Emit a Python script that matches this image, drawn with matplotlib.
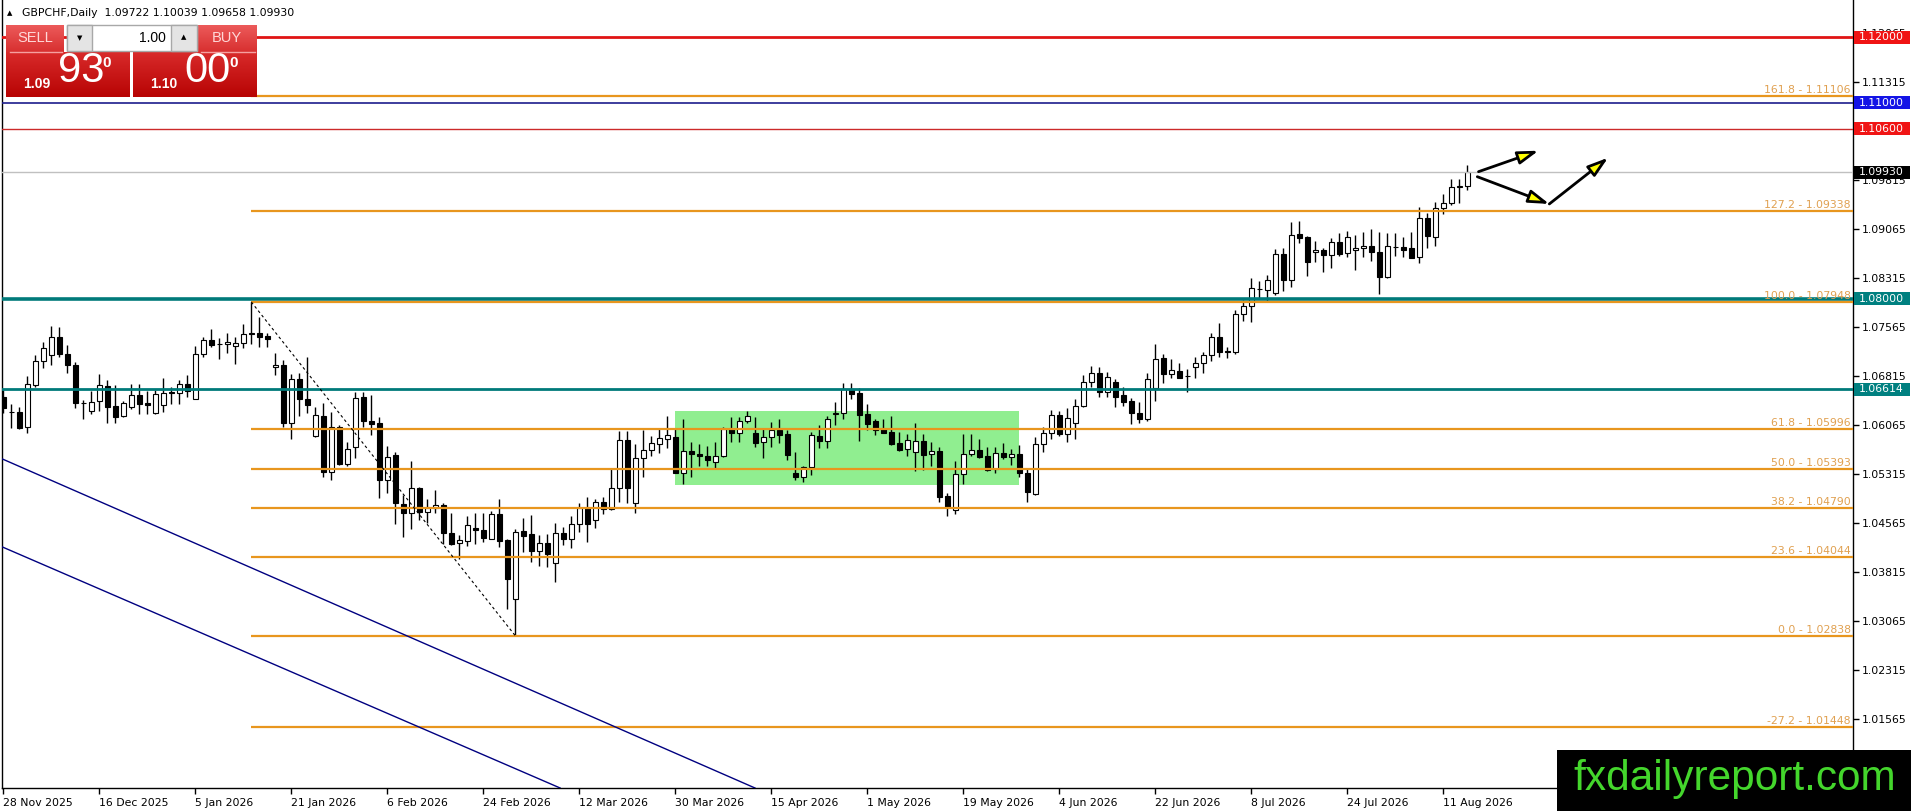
import matplotlib
matplotlib.use('Agg')
import numpy as np
import matplotlib.pyplot as plt
import matplotlib.transforms as mtransforms
from matplotlib import font_manager
from matplotlib.colors import LinearSegmentedColormap
from matplotlib.patches import Rectangle, FancyArrowPatch

# GBPCHF daily candles, bar 0 = 28 Nov 2025
opens = [
    1.06499, 1.06269, 1.06264, 1.06029, 1.06677, 1.07039, 1.07131, 1.07407, 1.07147, 1.06978,
    1.06407, 1.06284, 1.06427, 1.06657, 1.06351, 1.06197, 1.06335, 1.06519, 1.06397, 1.06243,
    1.06366, 1.06570, 1.06560, 1.06697, 1.06468, 1.07147, 1.07361, 1.07305, 1.07300, 1.07274,
    1.07315, 1.07468, 1.07468, 1.07422, 1.06947, 1.06978, 1.06090, 1.06764, 1.06463, 1.05897,
    1.06202, 1.05351, 1.06029, 1.05468, 1.05723, 1.06488, 1.06121, 1.06090, 1.05223, 1.05600,
    1.04856, 1.04713, 1.05096, 1.04728, 1.04789, 1.04835, 1.04407, 1.04254, 1.04294, 1.04488,
    1.04453, 1.04325, 1.04697, 1.04305, 1.03397, 1.04437, 1.04396, 1.04141, 1.04254, 1.03947,
    1.04407, 1.04325, 1.04544, 1.04789, 1.04611, 1.04881, 1.04784, 1.05096, 1.05840, 1.04866,
    1.05555, 1.05677, 1.05769, 1.05856, 1.05876, 1.05325, 1.05672, 1.05616, 1.05585, 1.05493,
    1.05585, 1.05999, 1.05937, 1.06121, 1.05937, 1.05800, 1.05876, 1.05988, 1.05922, 1.05325,
    1.05274, 1.05417, 1.05892, 1.05825, 1.06238, 1.06244, 1.06611, 1.06550, 1.06233, 1.06126,
    1.06004, 1.05958, 1.05784, 1.05693, 1.05647, 1.05820, 1.05616, 1.05667, 1.04978, 1.04759,
    1.05310, 1.05616, 1.05682, 1.05590, 1.05397, 1.05631, 1.05570, 1.05621, 1.05325, 1.05009,
    1.05769, 1.05937, 1.06213, 1.05922, 1.06096, 1.06351, 1.06718, 1.06856, 1.06575, 1.06718,
    1.06524, 1.06432, 1.06254, 1.06162, 1.06626, 1.07085, 1.06840, 1.06891, 1.06820, 1.06947,
    1.07009, 1.07131, 1.07407, 1.07192, 1.07177, 1.07764, 1.07886, 1.08146, 1.08131, 1.08080,
    1.08677, 1.08279, 1.08983, 1.08942, 1.08708, 1.08743, 1.08662, 1.08861, 1.08692, 1.08738,
    1.08769, 1.08800, 1.08713, 1.08335, 1.08794, 1.08789, 1.08769, 1.08641, 1.09228, 1.08937,
    1.09381, 1.09458, 1.09713, 1.09722,
]
highs = [
    1.06601, 1.06381, 1.06335, 1.06815, 1.07136, 1.07330, 1.07580, 1.07565, 1.07289, 1.07029,
    1.06448, 1.06585, 1.06840, 1.06754, 1.06672, 1.06432, 1.06692, 1.06687, 1.06585, 1.06601,
    1.06779, 1.06641, 1.06754, 1.06830, 1.07274, 1.07407, 1.07529, 1.07391, 1.07468, 1.07417,
    1.07611, 1.07948, 1.07723, 1.07478, 1.07162, 1.07060, 1.06840, 1.06856, 1.07101, 1.06335,
    1.06397, 1.06269, 1.06065, 1.05810, 1.06575, 1.06575, 1.06524, 1.06182, 1.05743, 1.05656,
    1.04993, 1.05514, 1.05121, 1.04927, 1.05070, 1.04866, 1.04723, 1.04376, 1.04677, 1.04723,
    1.04713, 1.04753, 1.04932, 1.04315, 1.04468, 1.04636, 1.04687, 1.04376, 1.04396, 1.04560,
    1.04509, 1.04672, 1.04876, 1.04957, 1.04937, 1.04957, 1.05401, 1.05978, 1.05978, 1.05774,
    1.05988, 1.05896, 1.06014, 1.06202, 1.06009, 1.06151, 1.05804, 1.05769, 1.05743, 1.05810,
    1.06039, 1.06182, 1.06182, 1.06279, 1.06182, 1.06014, 1.06106, 1.06152, 1.05988, 1.05647,
    1.05443, 1.05953, 1.06060, 1.06203, 1.06412, 1.06713, 1.06713, 1.06636, 1.06386, 1.06162,
    1.06157, 1.06198, 1.05953, 1.05922, 1.06096, 1.05922, 1.05800, 1.05723, 1.05029, 1.05519,
    1.05922, 1.05922, 1.05851, 1.05723, 1.05723, 1.05784, 1.05693, 1.05754, 1.05402, 1.05876,
    1.06029, 1.06289, 1.06279, 1.06330, 1.06458, 1.06830, 1.06968, 1.06948, 1.06881, 1.06764,
    1.06641, 1.06473, 1.06422, 1.06856, 1.07305, 1.07146, 1.07070, 1.07009, 1.06917, 1.07101,
    1.07187, 1.07468, 1.07631, 1.07254, 1.07825, 1.07978, 1.08310, 1.08274, 1.08361, 1.08759,
    1.08769, 1.09177, 1.09187, 1.08958, 1.08886, 1.08769, 1.08922, 1.09009, 1.09034, 1.08973,
    1.09014, 1.09065, 1.09014, 1.08998, 1.08998, 1.08937, 1.09014, 1.09407, 1.09305, 1.09473,
    1.09601, 1.09830, 1.09825, 1.10039,
]
lows = [
    1.06243, 1.06014, 1.05999, 1.05948, 1.06652, 1.06942, 1.06988, 1.07111, 1.06866, 1.06320,
    1.06162, 1.06238, 1.06284, 1.06100, 1.06100, 1.06192, 1.06305, 1.06233, 1.06228, 1.06238,
    1.06269, 1.06381, 1.06381, 1.06499, 1.06458, 1.07111, 1.07264, 1.07070, 1.07162, 1.06993,
    1.07238, 1.07300, 1.07254, 1.07254, 1.06825, 1.06039, 1.05846, 1.06208, 1.06243, 1.05881,
    1.05274, 1.05223, 1.05453, 1.05438, 1.05555, 1.06039, 1.05912, 1.04942, 1.05029, 1.04549,
    1.04356, 1.04468, 1.04611, 1.04560, 1.04713, 1.04243, 1.04228, 1.04009, 1.04218, 1.04238,
    1.04279, 1.04320, 1.04203, 1.03254, 1.02838, 1.04126, 1.03973, 1.03912, 1.03886, 1.03667,
    1.04228, 1.04177, 1.04432, 1.04279, 1.04494, 1.04697, 1.04764, 1.04891, 1.04876, 1.04723,
    1.05274, 1.05596, 1.05631, 1.05708, 1.05325, 1.05157, 1.05274, 1.05437, 1.05437, 1.05401,
    1.05570, 1.05810, 1.05810, 1.06090, 1.05723, 1.05555, 1.05733, 1.05784, 1.05529, 1.05223,
    1.05198, 1.05300, 1.05718, 1.05718, 1.06065, 1.06152, 1.06468, 1.05825, 1.05988, 1.05912,
    1.05937, 1.05759, 1.05667, 1.05596, 1.05366, 1.05376, 1.05437, 1.04892, 1.04677, 1.04703,
    1.05162, 1.05590, 1.05565, 1.05366, 1.05335, 1.05545, 1.05453, 1.05274, 1.04892, 1.04994,
    1.05657, 1.05851, 1.05897, 1.05810, 1.05846, 1.06335, 1.06652, 1.06499, 1.06499, 1.06335,
    1.06356, 1.06075, 1.06090, 1.06131, 1.06437, 1.06703, 1.06789, 1.06779, 1.06575, 1.06779,
    1.06866, 1.07044, 1.07101, 1.07085, 1.07152, 1.07662, 1.07646, 1.07993, 1.07953, 1.08055,
    1.08121, 1.08182, 1.08856, 1.08351, 1.08565, 1.08412, 1.08473, 1.08657, 1.08641, 1.08437,
    1.08641, 1.08580, 1.08065, 1.08310, 1.08657, 1.08641, 1.08616, 1.08539, 1.08779, 1.08805,
    1.09294, 1.09432, 1.09468, 1.09658,
]
closes = [
    1.06320, 1.06259, 1.06024, 1.06687, 1.07045, 1.07238, 1.07407, 1.07147, 1.06978, 1.06407,
    1.06397, 1.06422, 1.06672, 1.06346, 1.06192, 1.06397, 1.06519, 1.06392, 1.06366, 1.06534,
    1.06550, 1.06550, 1.06697, 1.06590, 1.07147, 1.07361, 1.07294, 1.07300, 1.07330, 1.07315,
    1.07458, 1.07453, 1.07417, 1.07386, 1.06978, 1.06090, 1.06764, 1.06458, 1.06376, 1.06213,
    1.05351, 1.06029, 1.05463, 1.05703, 1.06473, 1.06126, 1.06080, 1.05223, 1.05570, 1.04866,
    1.04713, 1.05096, 1.04728, 1.04789, 1.04835, 1.04407, 1.04243, 1.04300, 1.04529, 1.04453,
    1.04340, 1.04697, 1.04294, 1.03703, 1.04422, 1.04371, 1.04141, 1.04254, 1.04085, 1.04407,
    1.04325, 1.04544, 1.04789, 1.04555, 1.04881, 1.04784, 1.05096, 1.05840, 1.05096, 1.05555,
    1.05677, 1.05784, 1.05861, 1.05907, 1.05335, 1.05662, 1.05621, 1.05585, 1.05534, 1.05585,
    1.05998, 1.05937, 1.06121, 1.06198, 1.05795, 1.05876, 1.05988, 1.05917, 1.05611, 1.05274,
    1.05417, 1.05907, 1.05825, 1.06162, 1.06254, 1.06611, 1.06539, 1.06223, 1.06085, 1.05988,
    1.05948, 1.05779, 1.05682, 1.05835, 1.05820, 1.05611, 1.05667, 1.04968, 1.04815, 1.05310,
    1.05616, 1.05682, 1.05580, 1.05376, 1.05631, 1.05575, 1.05616, 1.05325, 1.05045, 1.05769,
    1.05937, 1.06213, 1.05922, 1.06167, 1.06351, 1.06718, 1.06856, 1.06575, 1.06805, 1.06499,
    1.06422, 1.06243, 1.06162, 1.06764, 1.07070, 1.06840, 1.06907, 1.06789, 1.06815, 1.07009,
    1.07131, 1.07407, 1.07177, 1.07187, 1.07764, 1.07886, 1.08157, 1.08141, 1.08279, 1.08677,
    1.08279, 1.08968, 1.08932, 1.08565, 1.08743, 1.08662, 1.08861, 1.08687, 1.08947, 1.08769,
    1.08800, 1.08718, 1.08335, 1.08800, 1.08789, 1.08749, 1.08626, 1.09228, 1.08963, 1.09381,
    1.09458, 1.09713, 1.09722, 1.09930,
]

date_labels = ['28 Nov 2025', '16 Dec 2025', '5 Jan 2026', '21 Jan 2026', '6 Feb 2026',
               '24 Feb 2026', '12 Mar 2026', '30 Mar 2026', '15 Apr 2026', '1 May 2026',
               '19 May 2026', '4 Jun 2026', '22 Jun 2026', '8 Jul 2026', '24 Jul 2026',
               '11 Aug 2026']
price_ticks = [1.12065, 1.11315, 1.10565, 1.09815, 1.09065, 1.08315, 1.07565, 1.06815,
               1.06065, 1.05315, 1.04565, 1.03815, 1.03065, 1.02315, 1.01565]

# fibonacci retracement drawn from the Jan high to the Mar low
fib_ratios = ['161.8', '127.2', '100.0', '61.8', '50.0', '38.2', '23.6', '0.0', '-27.2']
fib_prices = [1.11106, 1.09338, 1.07948, 1.05996, 1.05393, 1.04790, 1.04044, 1.02838, 1.01448]
fib_start_bar = 31
fib_anchor = [(31, 1.07948), (64, 1.02838)]

# horizontal levels marked on the price scale
level_prices = [1.12000, 1.11000, 1.10600, 1.09930, 1.08000, 1.06614]
level_line_colors = ['#e01414', '#1c1c8c', '#cc2a2a', '#c0c0c0', '#007a7a', '#007a7a']
level_box_colors = ['#f01414', '#1414e6', '#f01414', '#000000', '#008080', '#008080']
level_widths = [2.0, 1.2, 1.0, 1.0, 2.6, 2.0]

# consolidation box and old down channel
box_bars = (84, 127)
box_prices = (1.05146, 1.06279)
channel_upper = [(-0.41, 1.05560), (93.96, 1.00508)]
channel_lower = [(-0.41, 1.04213), (69.6, 1.00508)]

# projected paths
arrow_paths = [((184.4, 1.09942), (191.9, 1.10263)),
               ((184.25, 1.09865), (193.25, 1.09448)),
               ((193.25, 1.09448), (200.6, 1.10156))]


def has_font(name):
    return any(f.name == name for f in font_manager.fontManager.ttflist)


NARROW = 'Liberation Sans Narrow' if has_font('Liberation Sans Narrow') else 'Liberation Sans'

W, H = 1916, 811
fig = plt.figure(figsize=(W / 100, H / 100), dpi=100)
fig.patch.set_facecolor('white')
ax = fig.add_axes([2 / W, 23 / H, 1851 / W, 788 / H])

n = len(opens)
x = np.arange(n)
o = np.array(opens)
c = np.array(closes)
up = c >= o

ax.add_patch(Rectangle((box_bars[0], box_prices[0]), box_bars[1] - box_bars[0],
                       box_prices[1] - box_prices[0], facecolor='#90ee90',
                       edgecolor='none', zorder=1))

ax.vlines(x, lows, highs, color='black', lw=1, zorder=2)
body_h = np.maximum(np.abs(c - o), 0.00003)
ax.bar(x, body_h, bottom=np.minimum(o, c), width=0.62,
       color=np.where(up, 'white', 'black'), edgecolor='black', linewidth=0.8, zorder=3)

x_right = 231.21
for price, col, lw in zip(level_prices, level_line_colors, level_widths):
    ax.axhline(price, color=col, lw=lw, zorder=4)

trans = mtransforms.blended_transform_factory(ax.transAxes, ax.transData)
for ratio, price in zip(fib_ratios, fib_prices):
    ax.hlines(price, fib_start_bar, x_right, color='#e8961e', lw=1.6, zorder=4)
    ax.text(0.9989, price + 0.00015, f'{ratio} - {price:.5f}', transform=trans,
            ha='right', va='bottom', color='#e0a050', fontsize=7.8, zorder=5)

(fx0, fy0), (fx1, fy1) = fib_anchor
ax.plot([fx0, fx1], [fy0, fy1], color='black', lw=0.8, dashes=(2.5, 2.5), zorder=4)

for line in (channel_upper, channel_lower):
    (lx0, ly0), (lx1, ly1) = line
    ax.plot([lx0, lx1], [ly0, ly1], color='#000080', lw=1, zorder=4)

for start, end in arrow_paths:
    ax.add_patch(FancyArrowPatch(start, end, arrowstyle='-|>,head_length=0.95,head_width=0.3',
                                 mutation_scale=13, lw=2, edgecolor='black',
                                 facecolor='#ffff00', shrinkA=0, shrinkB=0, zorder=6))

# price boxes on the right scale
for price, bg in zip(level_prices, level_box_colors):
    ax.add_patch(Rectangle((1.00054, price - 0.00100), 0.0303, 0.00200, transform=trans,
                           facecolor=bg, edgecolor='none', clip_on=False, zorder=10))
    ax.text(1.0033, price, f'{price:.5f}', transform=trans, color='white', ha='left',
            va='center', fontsize=7.8, clip_on=False, zorder=11)

ax.set_xlim(-0.1625, x_right)
ax.set_ylim(1.00508, 1.12570)
ax.yaxis.tick_right()
ax.set_yticks(price_ticks)
ax.set_yticklabels([f'{v:.5f}' for v in price_ticks])
ax.tick_params(axis='y', direction='out', length=4, pad=2, labelsize=7.8, width=1)
ax.set_xticks(x[::12][:len(date_labels)])
ax.set_xticklabels(date_labels)
for lbl in ax.get_xticklabels():
    lbl.set_ha('left')
ax.tick_params(axis='x', direction='out', length=4, pad=3, labelsize=7.8, width=1)
ax.spines['top'].set_visible(False)
for side in ('left', 'right', 'bottom'):
    ax.spines[side].set_color('black')
    ax.spines[side].set_linewidth(1)

# overlay in pixel coordinates: title, trade panel, watermark
ov = fig.add_axes([0, 0, 1, 1], zorder=20)
ov.axis('off')


def grad_box(x0, y0, w, h, top, bottom):
    cmap = LinearSegmentedColormap.from_list('g', [top, bottom])
    ov.imshow(np.linspace(0, 1, 32).reshape(-1, 1), extent=(x0, x0 + w, y0 + h, y0),
              cmap=cmap, aspect='auto', interpolation='bilinear', zorder=1)


ov.text(10, 13, '\u25b2', fontsize=5, ha='center', va='center', color='black')
ov.text(22, 13, f'GBPCHF,Daily  {opens[-1]:.5f} {highs[-1]:.5f} {lows[-1]:.5f} {closes[-1]:.5f}',
        fontsize=7.8, ha='left', va='center', color='black')

grad_box(6, 25, 58, 27, '#ec5a5a', '#d83030')
grad_box(198, 25, 59, 27, '#ec5a5a', '#d83030')
grad_box(6, 52, 124, 45, '#d82a2a', '#b80404')
grad_box(133, 52, 124, 45, '#d82a2a', '#b80404')
ov.plot([10, 62], [51.5, 51.5], color='#f5a0a0', lw=1, zorder=2)
ov.plot([201, 255], [51.5, 51.5], color='#f5a0a0', lw=1, zorder=2)
ov.add_patch(Rectangle((67, 25), 130, 26, facecolor='white', edgecolor='#a8a8a8', lw=1, zorder=2))
ov.add_patch(Rectangle((67, 25), 25, 26, facecolor='#e4e4e4', edgecolor='#a8a8a8', lw=1, zorder=3))
ov.add_patch(Rectangle((171, 25), 26, 26, facecolor='#e4e4e4', edgecolor='#a8a8a8', lw=1, zorder=3))
ov.text(79.5, 38, '\u25bc', fontsize=5, ha='center', va='center', color='black', zorder=4)
ov.text(184, 37, '\u25b2', fontsize=5, ha='center', va='center', color='black', zorder=4)
ov.text(166, 38.5, '1.00', fontsize=10, family='Liberation Sans', ha='right', va='center', zorder=4)
ov.text(35, 38.5, 'SELL', fontsize=10.5, family=NARROW, color='#ffd8d8', ha='center', va='center', zorder=4)
ov.text(227, 38.5, 'BUY', fontsize=10.5, family=NARROW, color='#ffd8d8', ha='center', va='center', zorder=4)

for bx, big, small in ((0, '93', '1.09'), (127, '00', '1.10')):
    ov.text(37 + bx, 84, small, fontsize=10, family='Liberation Sans', weight='bold',
            color='white', ha='center', va='center', zorder=4)
    ov.text(81 + bx, 71, big, fontsize=30, family=NARROW, color='white',
            ha='center', va='center', zorder=4)
    ov.text(107 + bx, 63, '0', fontsize=11, family='Liberation Sans', weight='bold',
            color='white', ha='center', va='center', zorder=4)

ov.add_patch(Rectangle((1557, 750), 354, 61, facecolor='black', edgecolor='none', zorder=5))
ov.text(1573, 790, 'fxdailyreport.com', fontsize=30.5, family='Liberation Sans',
        color='#44d62c', ha='left', va='baseline', zorder=6)

ov.set_xlim(0, W)
ov.set_ylim(H, 0)

fig.savefig('out.png', dpi=100)
